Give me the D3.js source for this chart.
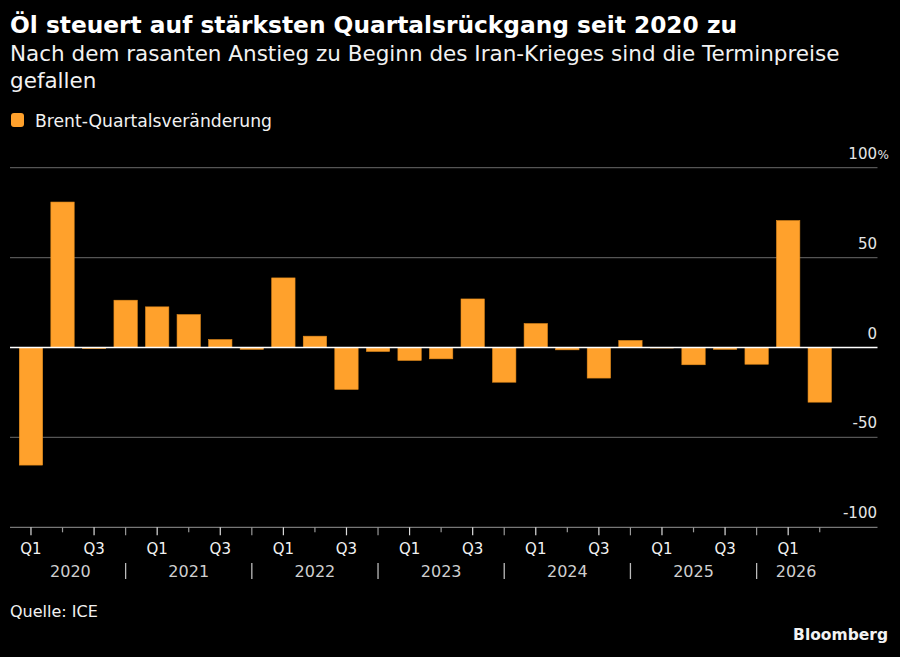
<!DOCTYPE html>
<html>
<head>
<meta charset="utf-8">
<script src="https://cdn.jsdelivr.net/npm/d3@7"></script>
<style>
  html, body { margin: 0; padding: 0; background: #000; }
  svg text { font-family: "DejaVu Sans", sans-serif; }
</style>
</head>
<body>
<div id="chart"></div>
<script>
const canvas_w  =   900;
const canvas_h  =   657;

// quarterly Brent change, in %
const periods   =   [ '2020 Q1', '2020 Q2', '2020 Q3', '2020 Q4',
                      '2021 Q1', '2021 Q2', '2021 Q3', '2021 Q4',
                      '2022 Q1', '2022 Q2', '2022 Q3', '2022 Q4',
                      '2023 Q1', '2023 Q2', '2023 Q3', '2023 Q4',
                      '2024 Q1', '2024 Q2', '2024 Q3', '2024 Q4',
                      '2025 Q1', '2025 Q2', '2025 Q3', '2025 Q4',
                      '2026 Q1', '2026 Q2' ];
const changes   =   [ -65.4, 80.9, -0.6, 26.3,
                       22.6, 18.3,  4.4, -1.0,
                       38.7,  6.3, -23.3, -2.2,
                       -7.2, -6.3, 27.0, -19.3,
                       13.3, -1.3, -17.0,  3.9,
                       -0.3, -9.6, -1.0, -9.3,
                       70.6, -30.4 ];
const years     =   [ '2020', '2021', '2022', '2023', '2024', '2025', '2026' ];
const y_ticks   =   [ -100, -50, 0, 50, 100 ];

const orange    =   '#ffa12c';

let svg         =   d3.select( '#chart' )
                      .append( 'svg' )
                      .attr( 'width', canvas_w )
                      .attr( 'height', canvas_h );

let x           =   d3.scaleBand()
                      .domain( periods )
                      .range( [ 15.2, 835.5 ] )
                      .paddingInner( 0.26 )
                      .paddingOuter( 0.13 );

let y           =   d3.scaleLinear()
                      .domain( [ -100, 100 ] )
                      .range( [ 527.3, 167.7 ] );

let cx          =   p => x( p ) + x.bandwidth() / 2;

// headings
svg.append( 'text' )
   .attr( 'x', 10 ).attr( 'y', 33 )
   .attr( 'fill', '#fff' )
   .attr( 'font-size', 23.3 ).attr( 'font-weight', 'bold' )
   .text( 'Öl steuert auf stärksten Quartalsrückgang seit 2020 zu' );

svg.append( 'text' )
   .attr( 'x', 10 ).attr( 'y', 61 )
   .attr( 'fill', '#f2f2f2' )
   .attr( 'font-size', 21.5 )
   .text( 'Nach dem rasanten Anstieg zu Beginn des Iran-Krieges sind die Terminpreise' );

svg.append( 'text' )
   .attr( 'x', 10 ).attr( 'y', 88 )
   .attr( 'fill', '#f2f2f2' )
   .attr( 'font-size', 21.5 )
   .text( 'gefallen' );

// legend
svg.append( 'rect' )
   .attr( 'x', 11 ).attr( 'y', 113 )
   .attr( 'width', 13 ).attr( 'height', 14 )
   .attr( 'rx', 3 )
   .attr( 'fill', orange );

svg.append( 'text' )
   .attr( 'x', 35 ).attr( 'y', 127 )
   .attr( 'fill', '#f2f2f2' )
   .attr( 'font-size', 17.2 )
   .text( 'Brent-Quartalsveränderung' );

// grid + y labels
svg.selectAll( '.grid' )
   .data( y_ticks.filter( d => d !== 0 ) )
   .enter()
   .append( 'line' )
   .attr( 'class', 'grid' )
   .attr( 'x1', 10 ).attr( 'x2', 877.5 )
   .attr( 'y1', d => y( d ) ).attr( 'y2', d => y( d ) )
   .attr( 'stroke', d => d === -100 ? '#777' : '#555' )
   .attr( 'stroke-width', 1.2 );

svg.selectAll( '.ylab' )
   .data( y_ticks )
   .enter()
   .append( 'text' )
   .attr( 'class', 'ylab' )
   .attr( 'x', 877 )
   .attr( 'y', d => y( d ) - 9 )
   .attr( 'text-anchor', 'end' )
   .attr( 'fill', '#e6e6e6' )
   .attr( 'font-size', 15 )
   .text( d => d );

svg.append( 'text' )
   .attr( 'x', 877.5 )
   .attr( 'y', y( 100 ) - 9 )
   .attr( 'fill', '#e6e6e6' )
   .attr( 'font-size', 12 )
   .text( '%' );

// bars
svg.selectAll( '.bar' )
   .data( changes )
   .enter()
   .append( 'rect' )
   .attr( 'class', 'bar' )
   .attr( 'x', ( d, i ) => x( periods[ i ] ) )
   .attr( 'width', x.bandwidth() )
   .attr( 'y', d => y( Math.max( 0, d ) ) )
   .attr( 'height', d => Math.abs( y( d ) - y( 0 ) ) )
   .attr( 'fill', orange )
   .attr( 'stroke', '#e58c1c' )
   .attr( 'stroke-width', 0.6 );

// zero line
svg.append( 'line' )
   .attr( 'x1', 10 ).attr( 'x2', 877.5 )
   .attr( 'y1', y( 0 ) ).attr( 'y2', y( 0 ) )
   .attr( 'stroke', '#fff' )
   .attr( 'stroke-width', 1.5 );

// x ticks
svg.selectAll( '.tick' )
   .data( periods )
   .enter()
   .append( 'line' )
   .attr( 'class', 'tick' )
   .attr( 'x1', cx ).attr( 'x2', cx )
   .attr( 'y1', y( -100 ) )
   .attr( 'y2', p => p.endsWith( 'Q2' ) ? y( -100 ) + 5 : y( -100 ) + 8 )
   .attr( 'stroke', p => p.endsWith( 'Q1' ) || p.endsWith( 'Q3' ) ? '#ddd' : '#999' )
   .attr( 'stroke-width', 1.2 );

svg.selectAll( '.qlab' )
   .data( periods.filter( p => p.endsWith( 'Q1' ) || p.endsWith( 'Q3' ) ) )
   .enter()
   .append( 'text' )
   .attr( 'class', 'qlab' )
   .attr( 'x', cx )
   .attr( 'y', 554 )
   .attr( 'text-anchor', 'middle' )
   .attr( 'fill', '#f2f2f2' )
   .attr( 'font-size', 15 )
   .text( p => p.slice( 5 ) );

// year boundaries sit on the Q4 position
let bounds      =   years.map( yr => periods.includes( yr + ' Q4' ) ? cx( yr + ' Q4' ) : null );

svg.selectAll( '.ysep' )
   .data( bounds.filter( b => b !== null ) )
   .enter()
   .append( 'line' )
   .attr( 'class', 'ysep' )
   .attr( 'x1', d => d ).attr( 'x2', d => d )
   .attr( 'y1', 563 ).attr( 'y2', 579 )
   .attr( 'stroke', '#bbb' )
   .attr( 'stroke-width', 1.3 );

svg.selectAll( '.yrlab' )
   .data( years )
   .enter()
   .append( 'text' )
   .attr( 'class', 'yrlab' )
   .attr( 'x', ( yr, i ) => {
        let left  = i === 0 ? x.range()[ 0 ] : bounds[ i - 1 ];
        let right = bounds[ i ] === null ? x.range()[ 1 ] : bounds[ i ];
        return ( left + right ) / 2;
   })
   .attr( 'y', 577 )
   .attr( 'text-anchor', 'middle' )
   .attr( 'fill', '#cfcfcf' )
   .attr( 'font-size', 16 )
   .text( yr => yr );

// footer
svg.append( 'text' )
   .attr( 'x', 10 ).attr( 'y', 617 )
   .attr( 'fill', '#f2f2f2' )
   .attr( 'font-size', 16 )
   .text( 'Quelle: ICE' );

svg.append( 'text' )
   .attr( 'x', 888 ).attr( 'y', 640 )
   .attr( 'text-anchor', 'end' )
   .attr( 'fill', '#f2f2f2' )
   .attr( 'font-size', 15.5 ).attr( 'font-weight', 'bold' )
   .text( 'Bloomberg' );
</script>
</body>
</html>
